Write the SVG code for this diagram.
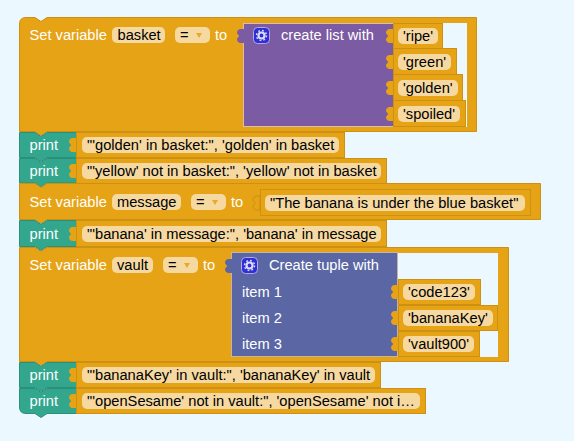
<svg xmlns="http://www.w3.org/2000/svg" width="574" height="441" viewBox="0 0 574 441">
<defs>
<path id="tabO" d="M8 0 V1 H5 C2 1 1 3 1 5 C1 6 3 7 3 8 C3 9 1 10 1 11 C1 13 2 15 5 15 H8 V16 Z"/>
<g id="gear"><rect x="0.500" y="0.500" width="16" height="16" rx="4" fill="#2f2fd6" stroke="#b9a8e0"/><circle cx="8.500" cy="8.500" r="3" fill="none" stroke="#dcdcf4" stroke-width="2.200"/><circle cx="8.500" cy="8.500" r="5" fill="none" stroke="#dcdcf4" stroke-width="1.400" stroke-dasharray="1.800 2.120"/></g>
</defs>
<style>
text{font-family:"Liberation Sans",Arial,sans-serif;font-size:14.67px}
.w{fill:#fff}.k{fill:#000}
.o{fill:#e6a315;stroke:#cc9112;stroke-width:1}
.g{fill:#33a68e;stroke:#2b8f7a;stroke-width:1}
.f{fill:#f6d9a0}
.to{fill:#e6a315}
.pt{fill:#7b5ba3}.bt{fill:#5b67a5}
.ar{fill:#e9a92a}
</style>
<rect width="574" height="441" fill="#ebf8ff"/>
<g id="connectors"></g>
<g id="set-basket">
<path class="o" d="M19.500 24 Q19.500 17.500 26 17.500 H35 L41 21.500 L47 17.500 H476.500 V131.500 H47 L41 135.500 L35 131.500 H19.500 Z"/>
<path d="M244 23 H467 V127 H393 V23" fill="#ebf8ff"/>
<text class="w" x="29.500" y="40">Set variable</text>
<rect class="f" x="112" y="27" width="53" height="16" rx="5"/><text class="k" x="117.500" y="40">basket</text>
<rect class="f" x="175" y="27" width="35" height="16" rx="5"/><text class="k" x="180" y="40">=</text><path d="M196 33 h6 l-3 5z" class="ar"/>
<text class="w" x="215" y="40">to</text>
</g>
<g id="list">
<rect x="243.500" y="23.500" width="150" height="103" fill="#7b5ba3" stroke="#fff" stroke-opacity="0.5"/>
<use href="#tabO" x="236" y="28" class="pt"/>
<use href="#gear" x="253" y="27"/>
<text class="w" x="281" y="40">create list with</text>
</g>
<g id="ripe"><rect class="o" x="393.500" y="23.500" width="49" height="25"/><use href="#tabO" x="385" y="28" class="to"/><rect class="f" x="398" y="28" width="40" height="16" rx="5"/><text class="k" x="403" y="41">'ripe'</text></g>
<g id="green"><rect class="o" x="393.500" y="48.500" width="63" height="26"/><use href="#tabO" x="385" y="54" class="to"/><rect class="f" x="398" y="54" width="53" height="16" rx="5"/><text class="k" x="403" y="67">'green'</text></g>
<g id="golden"><rect class="o" x="393.500" y="74.500" width="69" height="26"/><use href="#tabO" x="385" y="80" class="to"/><rect class="f" x="398" y="80" width="60" height="16" rx="5"/><text class="k" x="403" y="93">'golden'</text></g>
<g id="spoiled"><rect class="o" x="393.500" y="100.500" width="72" height="26"/><use href="#tabO" x="385" y="106" class="to"/><rect class="f" x="398" y="106" width="62" height="16" rx="5"/><text class="k" x="403" y="119">'spoiled'</text></g>
<g id="print1"><path class="g" d="M19.500 132.500 H35 L41 136.500 L47 132.500 H76.500 V157.500 H47 L41 161.500 L35 157.500 H19.500 Z"/><text class="w" x="29.500" y="150">print</text><rect class="o" x="76.500" y="132.500" width="268" height="25"/><use href="#tabO" x="68" y="137" class="to"/><rect class="f" x="82" y="137" width="257" height="16" rx="5"/><text class="k" x="87" y="150">"'golden' in basket:", 'golden' in basket</text></g>
<g id="print2"><path class="g" d="M19.500 158.500 H35 L41 162.500 L47 158.500 H76.500 V183 H47 L41 187 L35 183 H19.500 Z"/><text class="w" x="29.500" y="176">print</text><rect class="o" x="76.500" y="158.500" width="310" height="25"/><use href="#tabO" x="68" y="163" class="to"/><rect class="f" x="82" y="163" width="299" height="16" rx="5"/><text class="k" x="87" y="176">"'yellow' not in basket:", 'yellow' not in basket</text></g>
<g id="set-message"><path class="o" d="M19.500 183.500 H35 L41 187.500 L47 183.500 H540.500 V219.500 H47 L41 223.500 L35 219.500 H19.500 Z"/><text class="w" x="29.500" y="207">Set variable</text><rect class="f" x="112" y="194" width="69" height="16" rx="5"/><text class="k" x="117" y="207">message</text><rect class="f" x="191" y="194" width="35" height="16" rx="5"/><text class="k" x="196" y="207">=</text><path d="M212 200 h6 l-3 5z" class="ar"/><text class="w" x="231" y="207">to</text>
<rect class="o" x="260.500" y="189.500" width="270" height="26"/><use href="#tabO" x="252" y="195" class="to" stroke="#cc9112"/><rect class="f" x="265" y="195" width="260" height="16" rx="5"/><text class="k" x="270" y="208">"The banana is under the blue basket"</text></g>
<g id="print3"><path class="g" d="M19.500 220.500 H35 L41 224.500 L47 220.500 H76.500 V246.500 H47 L41 250.500 L35 246.500 H19.500 Z"/><text class="w" x="29.500" y="239">print</text><rect class="o" x="76.500" y="220.500" width="310" height="26"/><use href="#tabO" x="68" y="226" class="to"/><rect class="f" x="82" y="226" width="299" height="16" rx="5"/><text class="k" x="87" y="239">"'banana' in message:", 'banana' in message</text></g>
<g id="set-vault"><path class="o" d="M19.500 247.500 H35 L41 251.500 L47 247.500 H508.500 V361.500 H47 L41 365.500 L35 361.500 H19.500 Z"/><path d="M232 253 H498 V357 H398 V253" fill="#ebf8ff"/><text class="w" x="29.500" y="270">Set variable</text><rect class="f" x="112" y="257" width="41" height="16" rx="5"/><text class="k" x="117" y="270">vault</text><rect class="f" x="163" y="257" width="35" height="16" rx="5"/><text class="k" x="168" y="270">=</text><path d="M184 263 h6 l-3 5z" class="ar"/><text class="w" x="203" y="270">to</text></g>
<g id="tuple"><rect x="231.500" y="252.500" width="166" height="104" fill="#5b67a5" stroke="#fff" stroke-opacity="0.4"/><use href="#tabO" x="224" y="258" class="bt"/><use href="#gear" x="241" y="257"/><text class="w" x="269" y="270">Create tuple with</text><text class="w" x="242" y="297">item 1</text><text class="w" x="242" y="323">item 2</text><text class="w" x="242" y="349">item 3</text></g>
<g id="code123"><rect class="o" x="398.500" y="279.500" width="82" height="25"/><use href="#tabO" x="390" y="284" class="to"/><rect class="f" x="403" y="284" width="72" height="16" rx="5"/><text class="k" x="408" y="297">'code123'</text></g>
<g id="bananaKey"><rect class="o" x="398.500" y="305.500" width="99" height="25"/><use href="#tabO" x="390" y="310" class="to"/><rect class="f" x="403" y="310" width="90" height="16" rx="5"/><text class="k" x="408" y="323">'bananaKey'</text></g>
<g id="vault900"><rect class="o" x="398.500" y="331.500" width="81" height="25"/><use href="#tabO" x="390" y="336" class="to"/><rect class="f" x="403" y="336" width="71" height="16" rx="5"/><text class="k" x="408" y="349">'vault900'</text></g>
<g id="print4"><path class="g" d="M19.500 362.500 H35 L41 366.500 L47 362.500 H76.500 V387.500 H47 L41 391.500 L35 387.500 H19.500 Z"/><text class="w" x="29.500" y="380">print</text><rect class="o" x="76.500" y="362.500" width="304" height="25"/><use href="#tabO" x="68" y="367" class="to"/><rect class="f" x="82" y="367" width="293" height="16" rx="5"/><text class="k" x="87" y="380">"'bananaKey' in vault:", 'bananaKey' in vault</text></g>
<g id="print5"><path class="g" d="M19.500 388.500 H35 L41 392.500 L47 388.500 H76.500 V413.500 H47 L41 417.500 L35 413.500 H26 Q19.500 413.500 19.500 407 Z"/><text class="w" x="29.500" y="406">print</text><rect class="o" x="76.500" y="388.500" width="349" height="25"/><use href="#tabO" x="68" y="393" class="to"/><rect class="f" x="82" y="393" width="338" height="16" rx="5"/><text class="k" x="87" y="406">"'openSesame' not in vault:", 'openSesame' not i…</text></g>
</svg>
